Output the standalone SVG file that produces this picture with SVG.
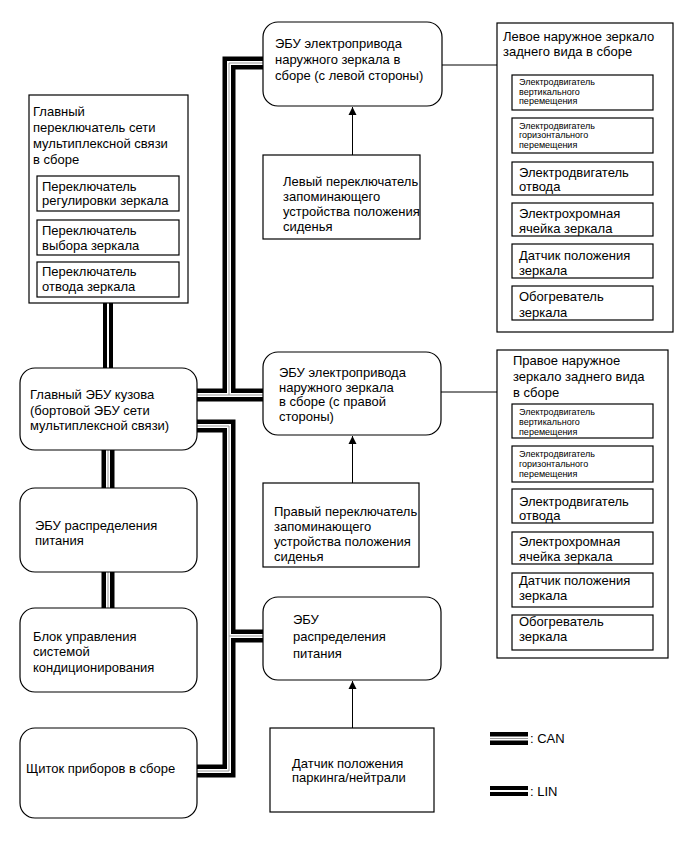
<svg xmlns="http://www.w3.org/2000/svg" xmlns:xlink="http://www.w3.org/1999/xlink" width="691" height="855" viewBox="0 0 691 855">
<style>
text{font-family:"Liberation Sans",Arial,sans-serif;font-size:13px;fill:#000}
.s{font-size:9px}
.box{fill:#fff;stroke:#000;stroke-width:1.2}
.bb{fill:none;stroke:#000;stroke-width:13}
.bw{fill:none;stroke:#fff;stroke-width:4}
.bg{fill:none;stroke:#999;stroke-width:1}
.lb{fill:none;stroke:#000;stroke-width:10}
.lw{fill:none;stroke:#fff;stroke-width:2}
.ln{fill:none;stroke:#000;stroke-width:1}
</style>
<defs>
<marker id="ah" viewBox="0 0 8 10" refX="8" refY="5" markerWidth="8" markerHeight="10" markerUnits="userSpaceOnUse" orient="auto">
<path d="M0,1 L8,5 L0,9 Z" fill="#000"/>
</marker>
<path id="c1" d="M197,395 H263 M229,395 V63 H263"/>
<path id="c2" d="M197,426 H229 V771 H197 M229,636 H263"/>
<path id="c3" d="M108,450 V488 M108,572 V608"/>
<path id="l1" d="M108,303 V368"/>
</defs>

<g id="connectors">
<use xlink:href="#c1" class="bb"/><use xlink:href="#c2" class="bb"/><use xlink:href="#c3" class="bb"/>
<use xlink:href="#c1" class="bw"/><use xlink:href="#c2" class="bw"/><use xlink:href="#c3" class="bw"/>
<use xlink:href="#c1" class="bg"/><use xlink:href="#c2" class="bg"/><use xlink:href="#c3" class="bg"/>
<use xlink:href="#l1" class="lb"/><use xlink:href="#l1" class="lw"/>
<path class="ln" d="M442,65 H497"/>
<path class="ln" d="M441,392 H497"/>
<path class="ln" d="M352.5,155 V107" marker-end="url(#ah)"/>
<path class="ln" d="M352.5,483 V436" marker-end="url(#ah)"/>
<path class="ln" d="M352.5,728 V681" marker-end="url(#ah)"/>
</g>

<g id="master-switch">
<rect class="box" x="29" y="95" width="159" height="208"/>
<text x="33" y="116">Главный</text>
<text x="33" y="132">переключатель сети</text>
<text x="33" y="148">мультиплексной связи</text>
<text x="33" y="164">в сборе</text>
<rect class="box" x="37" y="176" width="142" height="35"/>
<text x="42" y="191">Переключатель</text>
<text x="42" y="205">регулировки зеркала</text>
<rect class="box" x="37" y="220" width="142" height="35"/>
<text x="42" y="234.5">Переключатель</text>
<text x="42" y="249.5">выбора зеркала</text>
<rect class="box" x="37" y="262" width="142" height="35"/>
<text x="42" y="276">Переключатель</text>
<text x="42" y="291">отвода зеркала</text>
</g>

<g id="main-body-ecu">
<rect class="box" x="20" y="368" width="177" height="82" rx="15"/>
<text x="30" y="399">Главный ЭБУ кузова</text>
<text x="30" y="414.5">(бортовой ЭБУ сети</text>
<text x="30" y="430">мультиплексной связи)</text>
</g>

<g id="power-ecu-left">
<rect class="box" x="20" y="488" width="177" height="84" rx="15"/>
<text x="35" y="529.5">ЭБУ распределения</text>
<text x="35" y="545">питания</text>
</g>

<g id="ac-unit">
<rect class="box" x="20" y="608" width="177" height="84" rx="15"/>
<text x="33" y="641">Блок управления</text>
<text x="33" y="656">системой</text>
<text x="33" y="672">кондиционирования</text>
</g>

<g id="cluster">
<rect class="box" x="20" y="728" width="177" height="90" rx="15"/>
<text x="26" y="773">Щиток приборов в сборе</text>
</g>

<g id="left-mirror-ecu">
<rect class="box" x="263" y="22" width="179" height="84" rx="15"/>
<text x="275" y="48">ЭБУ электропривода</text>
<text x="275" y="64">наружного зеркала в</text>
<text x="275" y="79.5">сборе (с левой стороны)</text>
</g>

<g id="left-seat-switch">
<rect class="box" x="263" y="155" width="157" height="84"/>
<text x="283" y="186">Левый переключатель</text>
<text x="283" y="201">запоминающего</text>
<text x="283" y="216">устройства положения</text>
<text x="283" y="231">сиденья</text>
</g>

<g id="left-mirror">
<rect class="box" x="497" y="23" width="176" height="309"/>
<text x="503" y="41">Левое наружное зеркало</text>
<text x="503" y="56">заднего вида в сборе</text>
<rect class="box" x="512" y="75" width="141" height="35"/>
<text class="s" x="519" y="85">Электродвигатель</text>
<text class="s" x="519" y="94.5">вертикального</text>
<text class="s" x="519" y="104">перемещения</text>
<rect class="box" x="512" y="118" width="141" height="35"/>
<text class="s" x="519" y="128.5">Электродвигатель</text>
<text class="s" x="519" y="138">горизонтального</text>
<text class="s" x="519" y="147.5">перемещения</text>
<rect class="box" x="512" y="162" width="141" height="33"/>
<text x="519" y="177">Электродвигатель</text>
<text x="519" y="191">отвода</text>
<rect class="box" x="512" y="203" width="141" height="33"/>
<text x="519" y="218">Электрохромная</text>
<text x="519" y="233">ячейка зеркала</text>
<rect class="box" x="512" y="244" width="141" height="34"/>
<text x="519" y="259.5">Датчик положения</text>
<text x="519" y="274.5">зеркала</text>
<rect class="box" x="512" y="286" width="141" height="34"/>
<text x="519" y="301">Обогреватель</text>
<text x="519" y="317">зеркала</text>
</g>

<g id="right-mirror-ecu">
<rect class="box" x="263" y="352" width="178" height="83" rx="15"/>
<text x="279" y="377">ЭБУ электропривода</text>
<text x="279" y="391.5">наружного зеркала</text>
<text x="279" y="406">в сборе (с правой</text>
<text x="279" y="420.5">стороны)</text>
</g>

<g id="right-seat-switch">
<rect class="box" x="263" y="483" width="156" height="84"/>
<text x="274" y="516">Правый переключатель</text>
<text x="274" y="531">запоминающего</text>
<text x="274" y="546">устройства положения</text>
<text x="274" y="561">сиденья</text>
</g>

<g id="right-mirror">
<rect class="box" x="497" y="350" width="171" height="308"/>
<text x="513" y="364.5">Правое наружное</text>
<text x="513" y="380.5">зеркало заднего вида</text>
<text x="513" y="397">в сборе</text>
<rect class="box" x="512" y="404" width="141" height="34"/>
<text class="s" x="519" y="415">Электродвигатель</text>
<text class="s" x="519" y="424.5">вертикального</text>
<text class="s" x="519" y="434.5">перемещения</text>
<rect class="box" x="512" y="446" width="141" height="36"/>
<text class="s" x="519" y="457">Электродвигатель</text>
<text class="s" x="519" y="466.5">горизонтального</text>
<text class="s" x="519" y="476.5">перемещения</text>
<rect class="box" x="512" y="489" width="141" height="34"/>
<text x="519" y="506">Электродвигатель</text>
<text x="519" y="519.5">отвода</text>
<rect class="box" x="512" y="532" width="141" height="32"/>
<text x="519" y="546">Электрохромная</text>
<text x="519" y="560.5">ячейка зеркала</text>
<rect class="box" x="512" y="573" width="141" height="34"/>
<text x="519" y="584.5">Датчик положения</text>
<text x="519" y="599.5">зеркала</text>
<rect class="box" x="512" y="615" width="141" height="35"/>
<text x="519" y="626">Обогреватель</text>
<text x="519" y="641">зеркала</text>
</g>

<g id="power-ecu-right">
<rect class="box" x="263" y="597" width="178" height="83" rx="15"/>
<text x="293" y="624">ЭБУ</text>
<text x="293" y="641">распределения</text>
<text x="293" y="658">питания</text>
</g>

<g id="park-sensor">
<rect class="box" x="270" y="728" width="164" height="84"/>
<text x="292" y="768">Датчик положения</text>
<text x="292" y="782">паркинга/нейтрали</text>
</g>

<g id="legend">
<path class="bb" d="M490,738.5 H528"/>
<path class="bw" d="M490,738.5 H528"/>
<path class="bg" d="M490,738.5 H528"/>
<text x="530" y="743">: CAN</text>
<path class="lb" d="M490,791 H528"/>
<path class="lw" d="M490,791 H528"/>
<text x="530" y="795.5">: LIN</text>
</g>
</svg>
